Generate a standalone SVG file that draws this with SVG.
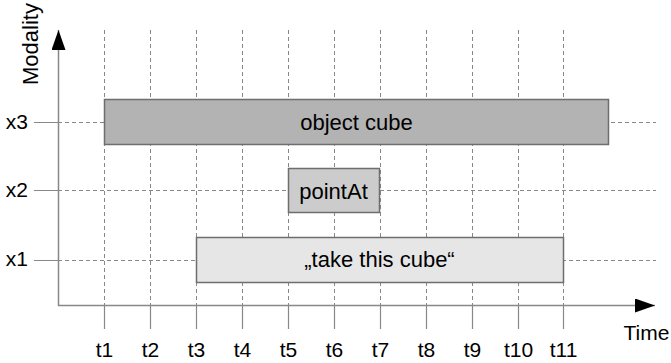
<svg xmlns="http://www.w3.org/2000/svg" width="671" height="363" viewBox="0 0 671 363">
<style>
text{font-family:"Liberation Sans",Arial,sans-serif;fill:#000}
.lbl{font-size:21px}
.box{font-size:22px;text-anchor:middle}
.tl{font-size:21px;text-anchor:middle}
.xl{font-size:21px;text-anchor:end}
.grid{stroke:#888;stroke-width:1;stroke-dasharray:4 3;fill:none}
.tick{stroke:#888;stroke-width:1.2;fill:none}
.axis{stroke:#888;stroke-width:1.5;fill:none}
.b{stroke:#6e6e6e;stroke-width:1.5}
</style>
<defs>
<marker id="ah" viewBox="0 0 20 14" refX="20" refY="7" markerWidth="20" markerHeight="14" markerUnits="userSpaceOnUse" orient="auto">
<path d="M0,0 L20,7 L0,14 Z" fill="#000"/>
</marker>
</defs>
<g id="connectors">
<g id="vgrid">
<path class="grid" d="M104.5,30V306M150.5,30V306M196.5,30V306M242.5,30V306M288.5,30V306M334.5,30V306M380.5,30V306M426.5,30V306M472.5,30V306M518.5,30V306M563.5,30V306"/>
<path class="tick" d="M104.5,306V329M150.5,306V329M196.5,306V329M242.5,306V329M288.5,306V329M334.5,306V329M380.5,306V329M426.5,306V329M472.5,306V329M518.5,306V329M563.5,306V329"/>
</g>
<g id="hgrid">
<path class="grid" d="M58,122.5H656M58,190.5H656M58,260.5H656"/>
<path class="tick" d="M34,122.5H58M34,190.5H58M34,260.5H58"/>
</g>
<g id="axes">
<path class="axis" d="M58.5,306V30" marker-end="url(#ah)"/>
<path class="axis" d="M58,305.5H655" marker-end="url(#ah)"/>
</g>
</g>
<g id="node-x3">
<rect class="b" x="104.5" y="99.5" width="504" height="45" fill="#b3b3b3"/>
<text class="box" x="356.5" y="130">object cube</text>
</g>
<g id="node-x2">
<rect class="b" x="288.5" y="168.5" width="91" height="44" fill="#cccccc"/>
<text class="box" x="333.5" y="199">pointAt</text>
</g>
<g id="node-x1">
<rect class="b" x="196.5" y="237.5" width="367" height="45" fill="#e6e6e6"/>
<text class="box" x="379.5" y="267">„take this cube“</text>
</g>
<g id="labels">
<text transform="translate(37.5,44) rotate(-90)" text-anchor="middle" style="font-size:22px">Modality</text>
<text x="623.5" y="340" style="font-size:21px">Time</text>
<text class="xl" x="28" y="129">x3</text>
<text class="xl" x="28" y="197">x2</text>
<text class="xl" x="28" y="266">x1</text>
<text class="tl" x="104.5" y="357">t1</text>
<text class="tl" x="150.5" y="357">t2</text>
<text class="tl" x="196.5" y="357">t3</text>
<text class="tl" x="242.5" y="357">t4</text>
<text class="tl" x="288.5" y="357">t5</text>
<text class="tl" x="334.5" y="357">t6</text>
<text class="tl" x="380.5" y="357">t7</text>
<text class="tl" x="426.5" y="357">t8</text>
<text class="tl" x="472.5" y="357">t9</text>
<text class="tl" x="518.5" y="357">t10</text>
<text class="tl" x="563.5" y="357">t11</text>
</g>
</svg>
